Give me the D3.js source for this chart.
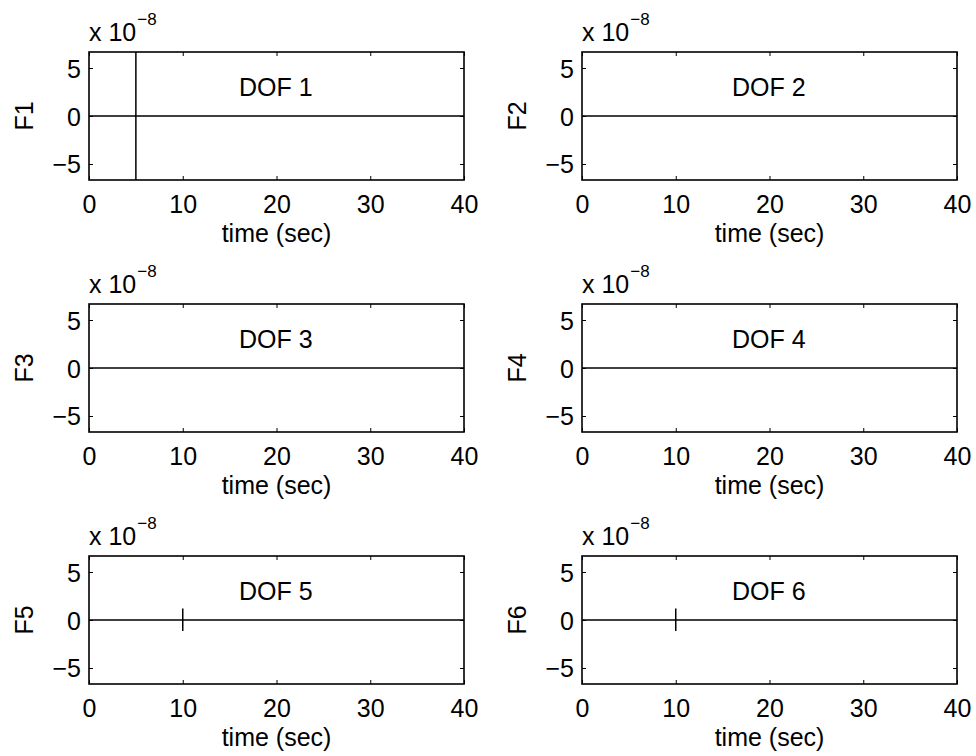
<!DOCTYPE html>
<html>
<head>
<meta charset="utf-8">
<script src="https://cdn.jsdelivr.net/npm/d3@7"></script>
<style>
  html, body { margin: 0; padding: 0; background: #fff; }
  svg { display: block; font-family: "Liberation Sans", Arial, Helvetica, sans-serif; }
</style>
</head>
<body>
<svg id="chart" width="976" height="756"></svg>
<script>
// Force response per degree of freedom, values in units of 1e-8
const timeDomain = [0, 40];
const forceDomain = [-6.667, 6.667];
const timeTicks = [0, 10, 20, 30, 40];
const forceTicks = [-5, 0, 5];
const dofTitles = ["DOF 1", "DOF 2", "DOF 3", "DOF 4", "DOF 5", "DOF 6"];
const forceLabels = ["F1", "F2", "F3", "F4", "F5", "F6"];
const exponentLabel = "x 10";
const exponentPower = "\u22128";
const timeLabel = "time (sec)";

const f1Time = [0, 5, 5, 5, 5, 40];
const f1Value = [0, 0, 60, -60, 0, 0];
const f2Time = [0, 40];
const f2Value = [0, 0];
const f3Time = [0, 40];
const f3Value = [0, 0];
const f4Time = [0, 40];
const f4Value = [0, 0];
const f5Time = [0, 10, 10, 10, 10, 40];
const f5Value = [0, 0, 1.2, -1.15, 0, 0];
const f6Time = [0, 10, 10, 10, 10, 40];
const f6Value = [0, 0, 1.2, -1.15, 0, 0];

const seriesTime = [f1Time, f2Time, f3Time, f4Time, f5Time, f6Time];
const seriesValue = [f1Value, f2Value, f3Value, f4Value, f5Value, f6Value];

// Subplot grid layout
const colLeft = [89, 582];
const rowTop = [52, 304, 556];
const plotW = 375;
const plotH = 128;
const fontSize = 25;

const svg = d3.select("#chart");

// MATLAB-style minus sign on tick labels
const fmt = d => (d < 0 ? "\u2212" + Math.abs(d) : String(d));

dofTitles.forEach((title, i) => {
  const row = Math.floor(i / 2), col = i % 2;
  const left = colLeft[col], top = rowTop[row];

  const x = d3.scaleLinear().domain(timeDomain).range([0, plotW]);
  const y = d3.scaleLinear().domain(forceDomain).range([plotH, 0]);

  const g = svg.append("g").attr("transform", `translate(${left},${top})`);

  const clipId = "clip" + i;
  g.append("clipPath").attr("id", clipId)
    .append("rect").attr("width", plotW).attr("height", plotH);

  // data line
  const pts = seriesTime[i].map((t, k) => [t, seriesValue[i][k]]);
  const line = d3.line().x(d => x(d[0])).y(d => y(d[1]));
  g.append("path")
    .attr("clip-path", `url(#${clipId})`)
    .attr("d", line(pts))
    .attr("fill", "none")
    .attr("stroke", "#000")
    .attr("stroke-width", 1.5);

  // axes: inward ticks on all four sides
  const tickLen = 4;
  const axB = d3.axisBottom(x).tickValues(timeTicks).tickSizeInner(-tickLen).tickSizeOuter(0).tickFormat(fmt).tickPadding(14);
  const axT = d3.axisTop(x).tickValues(timeTicks).tickSizeInner(-tickLen).tickSizeOuter(0).tickFormat("");
  const axL = d3.axisLeft(y).tickValues(forceTicks).tickSizeInner(-tickLen).tickSizeOuter(0).tickFormat(fmt).tickPadding(8);
  const axR = d3.axisRight(y).tickValues(forceTicks).tickSizeInner(-tickLen).tickSizeOuter(0).tickFormat("");

  const gb = g.append("g").attr("transform", `translate(0,${plotH})`).call(axB);
  const gt = g.append("g").call(axT);
  const gl = g.append("g").call(axL);
  const gr = g.append("g").attr("transform", `translate(${plotW},0)`).call(axR);

  [gb, gt, gl, gr].forEach(a => {
    a.select(".domain").remove();
    a.selectAll(".tick line").attr("stroke", "#000").attr("stroke-width", 1);
    a.selectAll(".tick text")
      .attr("fill", "#000")
      .style("font-size", fontSize + "px")
      .style("font-family", "'Liberation Sans', Arial, sans-serif");
  });
  gb.selectAll(".tick text").attr("dy", "0.76em");
  gl.selectAll(".tick text").attr("dy", "0.36em");

  // box
  g.append("rect")
    .attr("width", plotW).attr("height", plotH)
    .attr("fill", "none").attr("stroke", "#000").attr("stroke-width", 1.6);

  // DOF title inside the axes
  g.append("text")
    .attr("x", x(16)).attr("y", y(3))
    .attr("dy", "0.36em")
    .style("font-size", fontSize + "px")
    .text(title);

  // y label
  g.append("text")
    .attr("transform", `translate(${-56},${plotH / 2}) rotate(-90)`)
    .attr("text-anchor", "middle")
    .style("font-size", fontSize + "px")
    .text(forceLabels[i]);

  // x label
  g.append("text")
    .attr("x", plotW / 2).attr("y", plotH + 62)
    .attr("text-anchor", "middle")
    .style("font-size", fontSize + "px")
    .text(timeLabel);

  // exponent multiplier
  const ex = g.append("text")
    .attr("x", 0).attr("y", -11)
    .style("font-size", fontSize + "px")
    .text(exponentLabel);
  const w = ex.node().getComputedTextLength();
  g.append("text")
    .attr("x", w + 1).attr("y", -27)
    .style("font-size", "17px")
    .text(exponentPower);
});
</script>
</body>
</html>
